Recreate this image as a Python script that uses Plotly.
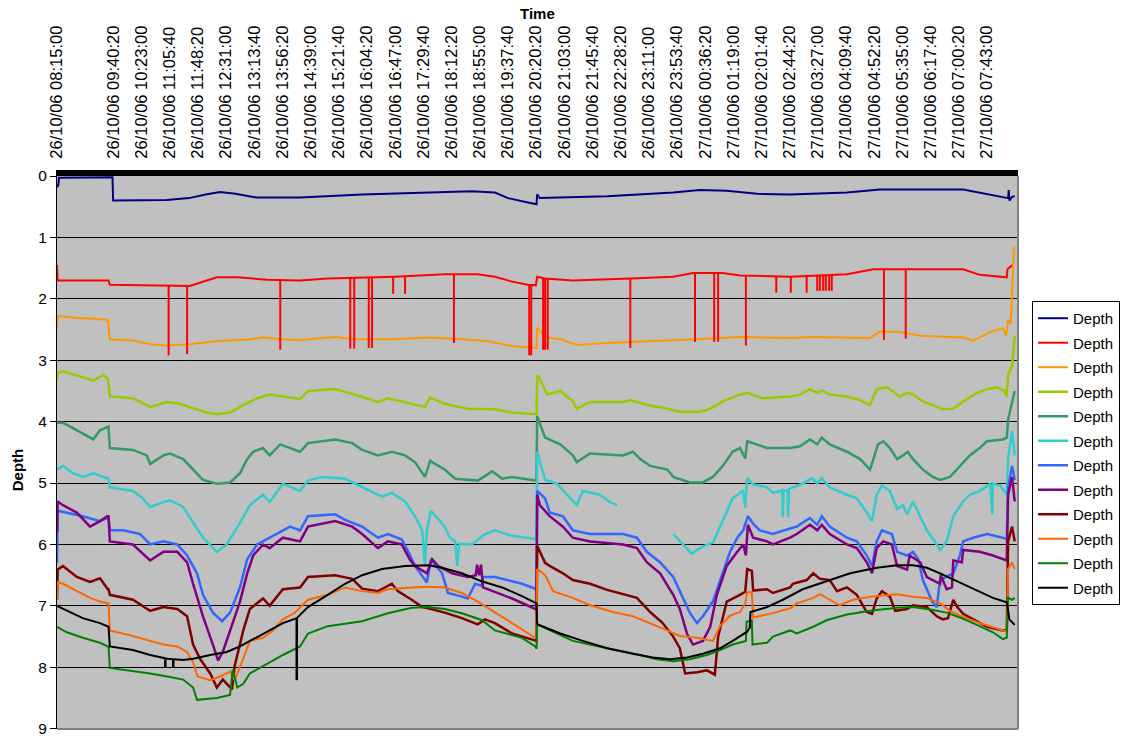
import plotly.graph_objects as go
import pandas as pd

START = "2006-10-26 08:15:00"

TICK_LABELS = [
    "26/10/06 08:15:00", "26/10/06 09:40:20", "26/10/06 10:23:00", "26/10/06 11:05:40",
    "26/10/06 11:48:20", "26/10/06 12:31:00", "26/10/06 13:13:40", "26/10/06 13:56:20",
    "26/10/06 14:39:00", "26/10/06 15:21:40", "26/10/06 16:04:20", "26/10/06 16:47:00",
    "26/10/06 17:29:40", "26/10/06 18:12:20", "26/10/06 18:55:00", "26/10/06 19:37:40",
    "26/10/06 20:20:20", "26/10/06 21:03:00", "26/10/06 21:45:40", "26/10/06 22:28:20",
    "26/10/06 23:11:00", "26/10/06 23:53:40", "27/10/06 00:36:20", "27/10/06 01:19:00",
    "27/10/06 02:01:40", "27/10/06 02:44:20", "27/10/06 03:27:00", "27/10/06 04:09:40",
    "27/10/06 04:52:20", "27/10/06 05:35:00", "27/10/06 06:17:40", "27/10/06 07:00:20",
    "27/10/06 07:43:00",
]
X_END_MIN = 1455  # end of the time axis, minutes after START

# ---- series: time (minutes after START) and depth ----
T_NAVY = [0, 2, 3, 84, 85, 166, 200, 225, 247, 270, 302, 368, 462, 587, 628, 663, 683, 713, 726, 727,
          731, 833, 933, 973, 1014, 1060, 1110, 1196, 1246, 1372, 1397, 1423, 1440, 1441, 1442, 1446, 1450]
D_NAVY = [0.18, 0.15, 0.03, 0.02, 0.40, 0.39, 0.36, 0.30, 0.26, 0.29, 0.35, 0.35, 0.30, 0.26, 0.25, 0.27,
          0.36, 0.43, 0.46, 0.30, 0.36, 0.33, 0.27, 0.23, 0.24, 0.29, 0.30, 0.27, 0.22, 0.22, 0.27, 0.33,
          0.36, 0.23, 0.40, 0.34, 0.33]

T_RED = [0, 1, 78, 80, 201, 242, 273, 318, 368, 410, 512, 587, 637, 663, 689, 713, 725, 727, 739, 781,
         868, 933, 963, 1008, 1034, 1084, 1110, 1196, 1236, 1372, 1397, 1438, 1439, 1447]
D_RED = [1.45, 1.70, 1.70, 1.77, 1.79, 1.65, 1.65, 1.69, 1.70, 1.67, 1.64, 1.60, 1.60, 1.64, 1.72, 1.77,
         1.78, 1.64, 1.67, 1.70, 1.67, 1.64, 1.58, 1.58, 1.62, 1.64, 1.64, 1.60, 1.52, 1.52, 1.61, 1.65,
         1.52, 1.45]
RED_SPIKE_T = [169, 197, 338, 444, 450, 472, 477, 509, 527, 601, 715, 718, 736, 739, 743, 868, 966, 995,
               1001, 1043, 1089, 1111, 1135, 1151, 1155, 1160, 1164, 1169, 1173, 1252, 1285]
RED_SPIKE_TOP = [1.78, 1.79, 1.69, 1.66, 1.66, 1.65, 1.65, 1.64, 1.63, 1.60, 1.77, 1.77, 1.66, 1.67, 1.67,
                 1.67, 1.58, 1.58, 1.58, 1.62, 1.64, 1.64, 1.63, 1.62, 1.62, 1.62, 1.62, 1.61, 1.61, 1.52, 1.52]
RED_SPIKE_BOTTOM = [2.92, 2.90, 2.83, 2.81, 2.81, 2.80, 2.80, 1.92, 1.92, 2.72, 2.92, 2.92, 2.83, 2.83, 2.83,
                    2.80, 2.70, 2.70, 2.70, 2.76, 1.90, 1.90, 1.90, 1.87, 1.87, 1.87, 1.87, 1.87, 1.87, 2.67, 2.65]

T_AMBER = [0, 1, 27, 70, 77, 80, 115, 141, 167, 201, 242, 292, 312, 342, 368, 421, 451, 512, 562, 613,
           653, 689, 724, 726, 727, 731, 739, 762, 787, 833, 883, 933, 984, 1034, 1084, 1110, 1145, 1231,
           1246, 1276, 1307, 1372, 1387, 1397, 1413, 1432, 1437, 1440, 1444, 1449]
D_AMBER = [2.48, 2.28, 2.31, 2.33, 2.34, 2.66, 2.68, 2.74, 2.76, 2.74, 2.69, 2.66, 2.63, 2.66, 2.67, 2.62,
           2.66, 2.66, 2.63, 2.66, 2.69, 2.77, 2.80, 2.80, 2.47, 2.52, 2.63, 2.66, 2.75, 2.72, 2.70, 2.68,
           2.65, 2.62, 2.64, 2.64, 2.62, 2.64, 2.53, 2.54, 2.60, 2.63, 2.68, 2.63, 2.54, 2.48, 2.60, 2.34,
           2.40, 1.15]

T_LIME = [0, 1, 9, 39, 55, 70, 77, 80, 115, 141, 167, 182, 201, 227, 242, 262, 282, 303, 322, 368, 380,
          421, 451, 486, 501, 527, 557, 565, 587, 622, 663, 689, 724, 726, 727, 731, 742, 762, 781, 787,
          807, 857, 868, 893, 924, 943, 973, 989, 1008, 1034, 1045, 1069, 1110, 1125, 1140, 1151, 1158,
          1170, 1196, 1216, 1231, 1241, 1257, 1276, 1287, 1296, 1311, 1332, 1341, 1357, 1372, 1393, 1408,
          1423, 1435, 1438, 1440, 1446, 1450]
D_LIME = [3.33, 3.21, 3.18, 3.27, 3.33, 3.24, 3.30, 3.59, 3.62, 3.76, 3.68, 3.70, 3.76, 3.85, 3.88, 3.85,
          3.73, 3.62, 3.56, 3.63, 3.50, 3.47, 3.56, 3.68, 3.62, 3.68, 3.76, 3.61, 3.71, 3.79, 3.80, 3.85,
          3.88, 3.88, 3.24, 3.30, 3.56, 3.50, 3.67, 3.79, 3.68, 3.68, 3.65, 3.73, 3.79, 3.84, 3.84, 3.79,
          3.67, 3.56, 3.53, 3.62, 3.59, 3.56, 3.47, 3.53, 3.49, 3.56, 3.59, 3.65, 3.73, 3.47, 3.44, 3.59,
          3.53, 3.56, 3.67, 3.76, 3.80, 3.79, 3.67, 3.53, 3.47, 3.44, 3.50, 3.59, 3.24, 3.09, 2.60]

T_SEA = [0, 9, 20, 39, 55, 65, 76, 78, 80, 115, 136, 141, 161, 171, 191, 206, 221, 242, 262, 277, 288,
         297, 312, 322, 338, 353, 368, 380, 421, 447, 462, 486, 507, 527, 542, 557, 565, 587, 603, 637,
         659, 674, 689, 724, 726, 727, 739, 762, 781, 787, 807, 857, 872, 883, 898, 924, 933, 958, 978,
         993, 1008, 1023, 1034, 1042, 1045, 1075, 1110, 1125, 1140, 1151, 1158, 1170, 1196, 1216, 1231,
         1243, 1251, 1261, 1272, 1281, 1288, 1296, 1311, 1326, 1337, 1352, 1367, 1382, 1397, 1408, 1432,
         1438, 1440, 1446, 1450]
D_SEA = [4.02, 4.02, 4.08, 4.20, 4.29, 4.14, 4.08, 4.08, 4.43, 4.46, 4.55, 4.69, 4.55, 4.52, 4.61, 4.78,
         4.95, 5.01, 4.99, 4.84, 4.61, 4.49, 4.43, 4.55, 4.37, 4.43, 4.49, 4.35, 4.29, 4.35, 4.46, 4.55,
         4.49, 4.55, 4.66, 4.90, 4.64, 4.78, 4.93, 4.96, 4.81, 4.93, 4.90, 4.96, 4.96, 3.91, 4.26, 4.37,
         4.55, 4.66, 4.52, 4.55, 4.49, 4.61, 4.72, 4.78, 4.90, 4.99, 4.99, 4.90, 4.72, 4.49, 4.43, 4.60,
         4.32, 4.43, 4.43, 4.40, 4.29, 4.37, 4.26, 4.37, 4.49, 4.61, 4.78, 4.37, 4.32, 4.43, 4.61, 4.55,
         4.49, 4.61, 4.78, 4.90, 4.95, 4.90, 4.72, 4.55, 4.43, 4.32, 4.29, 4.26, 3.97, 3.67, 3.50]

T_TURQ = [0, 9, 24, 39, 55, 76, 78, 80, 115, 130, 141, 161, 171, 191, 206, 221, 242, 257, 277, 292, 312,
          322, 342, 368, 380, 401, 436, 462, 492, 507, 527, 542, 553, 557, 560, 566, 587, 595, 603, 606,
          609, 628, 648, 663, 689, 724, 726, 727, 739, 757, 777, 787, 796, 822, 837, 848, 849, 933, 948,
          961, 978, 993, 1004, 1014, 1023, 1039, 1042, 1045, 1054, 1075, 1084, 1098, 1099, 1100, 1106,
          1107, 1108, 1114, 1129, 1143, 1151, 1158, 1170, 1196, 1211, 1226, 1234, 1241, 1249, 1261, 1272,
          1281, 1287, 1296, 1307, 1317, 1332, 1337, 1347, 1357, 1372, 1382, 1397, 1413, 1416, 1417, 1428,
          1438, 1440, 1446, 1450]
D_TURQ = [4.78, 4.72, 4.84, 4.90, 4.84, 4.93, 4.93, 5.07, 5.13, 5.25, 5.39, 5.31, 5.28, 5.39, 5.65, 5.89,
          6.12, 6.00, 5.65, 5.36, 5.19, 5.31, 5.01, 5.13, 4.96, 4.90, 4.93, 5.07, 5.22, 5.16, 5.30, 5.54,
          5.77, 6.32, 5.77, 5.45, 5.71, 5.89, 5.95, 6.35, 5.99, 6.00, 5.83, 5.77, 5.86, 5.91, 5.91, 4.49,
          4.95, 5.01, 5.24, 5.36, 5.13, 5.19, 5.31, 5.36, None, 5.83, 6.00, 6.15, 6.03, 5.97, 5.71, 5.48,
          5.25, 5.12, 5.40, 4.92, 5.02, 5.07, 5.16, 5.12, 5.55, 5.12, 5.12, 5.56, 5.10, 5.07, 5.01, 4.92,
          5.01, 4.92, 5.07, 5.19, 5.25, 5.48, 5.62, 5.19, 5.04, 5.13, 5.42, 5.36, 5.51, 5.30, 5.54, 5.77,
          6.00, 6.09, 5.95, 5.54, 5.30, 5.19, 5.13, 5.01, 5.51, 5.01, 5.04, 5.19, 4.60, 4.15, 4.55]

T_BLUE = [0, 1, 39, 65, 76, 78, 80, 100, 126, 141, 161, 182, 197, 212, 221, 236, 250, 262, 277, 288, 303,
          322, 342, 353, 368, 380, 421, 436, 462, 486, 501, 522, 534, 542, 560, 566, 583, 592, 613, 622,
          633, 643, 645, 663, 704, 724, 726, 727, 739, 746, 766, 781, 807, 857, 878, 893, 913, 933, 943,
          958, 969, 978, 993, 1008, 1019, 1030, 1039, 1046, 1054, 1064, 1084, 1110, 1120, 1140, 1151, 1158,
          1170, 1196, 1211, 1226, 1234, 1241, 1249, 1264, 1272, 1287, 1296, 1304, 1311, 1325, 1332, 1337,
          1347, 1357, 1367, 1372, 1387, 1408, 1432, 1438, 1440, 1446, 1450]
D_BLUE = [6.30, 5.45, 5.54, 5.62, 5.57, 5.57, 5.77, 5.77, 5.83, 6.00, 5.95, 6.00, 6.18, 6.47, 6.82, 7.11,
          7.25, 7.11, 6.70, 6.24, 6.00, 5.89, 5.77, 5.71, 5.77, 5.54, 5.51, 5.60, 5.71, 5.89, 5.83, 5.92,
          6.16, 6.35, 6.62, 6.25, 6.47, 6.79, 6.85, 6.88, 6.64, 6.67, 6.53, 6.53, 6.64, 6.73, 6.73, 5.13,
          5.25, 5.48, 5.54, 5.77, 5.83, 5.83, 5.89, 6.12, 6.29, 6.53, 6.76, 7.11, 7.28, 7.17, 6.93, 6.47,
          6.12, 5.89, 5.77, 5.54, 5.66, 5.77, 5.83, 5.74, 5.71, 5.57, 5.68, 5.54, 5.71, 5.89, 5.95, 6.18,
          6.35, 5.95, 5.77, 5.83, 6.12, 6.18, 6.12, 6.24, 6.58, 6.93, 7.02, 6.58, 6.53, 6.47, 6.18, 5.95,
          5.89, 5.83, 5.89, 5.92, 5.07, 4.72, 4.95]

T_PURPLE = [0, 1, 9, 30, 50, 65, 76, 78, 80, 115, 141, 161, 182, 197, 206, 221, 236, 244, 251, 262, 277,
            288, 297, 312, 322, 342, 368, 380, 421, 447, 462, 486, 501, 522, 534, 542, 560, 568, 577, 598,
            622, 634, 636, 639, 642, 645, 689, 724, 726, 727, 731, 746, 766, 781, 807, 857, 878, 893, 913,
            933, 943, 954, 963, 978, 989, 999, 1014, 1030, 1039, 1043, 1046, 1054, 1075, 1084, 1110, 1120,
            1140, 1151, 1158, 1170, 1196, 1211, 1226, 1234, 1241, 1251, 1264, 1272, 1287, 1291, 1307, 1317,
            1332, 1337, 1338, 1347, 1355, 1357, 1370, 1372, 1397, 1417, 1438, 1440, 1446, 1450]
D_PURPLE = [5.80, 5.30, 5.36, 5.48, 5.71, 5.62, 5.54, 5.54, 5.95, 6.00, 6.26, 6.12, 6.12, 6.29, 6.64, 7.17,
            7.63, 7.89, 7.75, 7.40, 6.93, 6.47, 6.18, 6.00, 6.06, 5.89, 5.95, 5.71, 5.62, 5.71, 5.83, 6.06,
            5.95, 6.00, 6.24, 6.35, 6.47, 6.24, 6.35, 6.47, 6.53, 6.50, 6.33, 6.50, 6.33, 6.70, 6.88, 7.05,
            7.05, 5.19, 5.36, 5.54, 5.71, 5.89, 5.95, 6.00, 6.06, 6.29, 6.47, 6.82, 7.05, 7.46, 7.63, 7.57,
            7.34, 6.82, 6.35, 6.12, 6.00, 6.18, 5.68, 5.89, 5.95, 6.00, 5.89, 5.83, 5.68, 5.77, 5.68, 5.83,
            6.00, 6.06, 6.29, 6.47, 6.06, 5.95, 6.00, 6.35, 6.41, 6.18, 6.29, 6.53, 6.61, 6.64, 6.50, 6.73,
            6.70, 6.26, 6.29, 6.09, 6.12, 6.18, 6.26, 5.19, 4.90, 5.30]

T_MAROON = [0, 1, 9, 30, 50, 65, 77, 78, 80, 115, 141, 161, 182, 197, 206, 217, 232, 242, 251, 265, 269,
            282, 292, 312, 322, 342, 368, 380, 421, 447, 462, 486, 507, 516, 537, 553, 562, 587, 613, 637,
            648, 663, 689, 724, 726, 727, 739, 746, 766, 781, 807, 833, 857, 878, 898, 917, 933, 943, 951,
            969, 984, 996, 1001, 1014, 1034, 1042, 1045, 1052, 1054, 1075, 1084, 1110, 1114, 1135, 1145,
            1155, 1170, 1181, 1196, 1211, 1226, 1234, 1241, 1249, 1261, 1269, 1287, 1296, 1317, 1332, 1341,
            1349, 1357, 1363, 1372, 1387, 1408, 1432, 1438, 1440, 1446, 1450]
D_MAROON = [6.90, 6.41, 6.35, 6.53, 6.61, 6.55, 6.73, 6.73, 6.82, 6.90, 7.08, 7.02, 7.05, 7.17, 7.63, 7.87,
            8.10, 8.33, 8.20, 8.36, 7.98, 7.40, 7.05, 6.88, 7.00, 6.73, 6.70, 6.53, 6.50, 6.56, 6.72, 6.76,
            6.64, 6.76, 6.90, 7.02, 7.04, 7.11, 7.20, 7.30, 7.22, 7.28, 7.45, 7.57, 7.57, 6.02, 6.30, 6.35,
            6.47, 6.58, 6.64, 6.74, 6.81, 6.87, 7.10, 7.28, 7.50, 7.69, 8.10, 8.08, 8.05, 8.12, 7.50, 6.93,
            6.82, 6.77, 6.40, 6.43, 6.75, 6.73, 6.79, 6.70, 6.64, 6.58, 6.47, 6.56, 6.58, 6.76, 6.70, 6.82,
            7.10, 7.13, 6.88, 6.76, 6.85, 7.08, 7.05, 6.99, 7.02, 7.17, 7.22, 7.20, 6.90, 7.02, 7.13, 7.22,
            7.34, 7.40, 7.40, 5.95, 5.71, 5.95]

T_ORANGE = [0, 1, 9, 30, 50, 65, 77, 78, 80, 115, 141, 161, 182, 197, 206, 213, 232, 247, 262, 269, 282,
            292, 312, 327, 342, 360, 380, 410, 436, 462, 486, 501, 537, 562, 587, 613, 637, 663, 689, 724,
            726, 727, 739, 751, 781, 807, 842, 872, 898, 924, 943, 969, 993, 1004, 1019, 1034, 1042, 1045,
            1052, 1054, 1079, 1110, 1120, 1145, 1155, 1170, 1185, 1205, 1231, 1272, 1296, 1317, 1337, 1352,
            1367, 1397, 1432, 1438, 1440, 1446, 1450]
D_ORANGE = [6.90, 6.61, 6.64, 6.76, 6.87, 6.93, 6.96, 6.96, 7.40, 7.49, 7.57, 7.63, 7.66, 7.75, 7.92, 8.15,
            8.21, 8.15, 8.07, 8.21, 7.86, 7.57, 7.52, 7.40, 7.22, 7.11, 6.90, 6.82, 6.70, 6.76, 6.79, 6.73,
            6.70, 6.69, 6.70, 6.79, 6.93, 7.10, 7.28, 7.52, 7.52, 6.40, 6.50, 6.76, 6.87, 6.99, 7.10, 7.17,
            7.28, 7.40, 7.49, 7.52, 7.57, 7.33, 7.16, 7.10, 6.96, 6.78, 6.78, 7.19, 7.13, 7.04, 6.96, 6.87,
            6.81, 6.90, 6.99, 6.90, 6.85, 6.81, 6.85, 6.87, 6.96, 7.08, 7.16, 7.28, 7.40, 7.42, 6.40, 6.29,
            6.40]

T_GREEN = [0, 15, 39, 65, 77, 78, 80, 115, 141, 167, 191, 206, 212, 242, 262, 266, 273, 282, 292, 312, 342,
           368, 380, 410, 462, 501, 537, 562, 587, 613, 643, 663, 704, 724, 726, 727, 781, 833, 883, 908,
           933, 958, 984, 1004, 1023, 1043, 1044, 1052, 1053, 1075, 1084, 1110, 1120, 1145, 1166, 1196,
           1231, 1272, 1296, 1322, 1347, 1367, 1387, 1417, 1432, 1438, 1440, 1446, 1450]
D_GREEN = [7.34, 7.43, 7.52, 7.60, 7.66, 7.66, 8.01, 8.06, 8.10, 8.15, 8.20, 8.33, 8.53, 8.50, 8.45, 8.04,
           8.33, 8.27, 8.10, 7.98, 7.80, 7.66, 7.45, 7.33, 7.25, 7.12, 7.03, 7.02, 7.05, 7.12, 7.23, 7.40,
           7.52, 7.66, 7.70, 7.30, 7.57, 7.69, 7.80, 7.87, 7.90, 7.87, 7.80, 7.72, 7.63, 7.57, 7.26, 7.24,
           7.63, 7.60, 7.50, 7.40, 7.45, 7.34, 7.23, 7.14, 7.08, 7.03, 7.02, 7.06, 7.11, 7.19, 7.28, 7.43,
           7.54, 7.52, 6.87, 6.90, 6.87]

T_BLACK = [0, 20, 39, 65, 77, 78, 80, 115, 141, 167, 191, 206, 232, 257, 277, 292, 318, 342, 363, 380, 410,
           436, 462, 492, 527, 562, 583, 613, 643, 674, 704, 724, 726, 727, 762, 796, 833, 872, 902, 928,
           954, 978, 1004, 1023, 1045, 1049, 1050, 1075, 1099, 1129, 1166, 1201, 1241, 1272, 1296, 1317,
           1337, 1363, 1387, 1417, 1438, 1442, 1450]
D_BLACK = [7.00, 7.10, 7.20, 7.28, 7.34, 7.34, 7.66, 7.72, 7.80, 7.86, 7.88, 7.86, 7.80, 7.75, 7.66, 7.57,
           7.42, 7.28, 7.20, 7.02, 6.82, 6.64, 6.50, 6.40, 6.35, 6.34, 6.38, 6.47, 6.60, 6.70, 6.84, 6.96,
           6.96, 7.30, 7.45, 7.57, 7.69, 7.78, 7.84, 7.87, 7.84, 7.78, 7.69, 7.57, 7.42, 7.35, 7.10, 7.02,
           6.90, 6.73, 6.59, 6.47, 6.38, 6.34, 6.34, 6.38, 6.47, 6.60, 6.73, 6.87, 6.94, 7.22, 7.31]
BLACK_SPIKE_T = [164, 176, 363]
BLACK_SPIKE_TOP = [7.87, 7.87, 7.20]
BLACK_SPIKE_BOTTOM = [8.00, 8.00, 8.21]

SERIES_NAMES = ["Depth"] * 12
SERIES_COLORS = ["#000080", "#FF0000", "#FF9900", "#99CC00", "#339966", "#33CCCC",
                 "#3366FF", "#800080", "#800000", "#FF6600", "#008000", "#000000"]
SERIES_WIDTHS = [2, 2, 2, 2.5, 2.5, 2.5, 2.5, 2.5, 2.5, 2, 2, 2]
SERIES_T = [T_NAVY, T_RED, T_AMBER, T_LIME, T_SEA, T_TURQ, T_BLUE, T_PURPLE, T_MAROON, T_ORANGE, T_GREEN, T_BLACK]
SERIES_D = [D_NAVY, D_RED, D_AMBER, D_LIME, D_SEA, D_TURQ, D_BLUE, D_PURPLE, D_MAROON, D_ORANGE, D_GREEN, D_BLACK]
Y_TICKS = [0, 1, 2, 3, 4, 5, 6, 7, 8, 9]

base = pd.Timestamp(START)


def to_time(mins):
    return [base + pd.Timedelta(minutes=m) for m in mins]


def spike_xy(ts, tops, bottoms):
    xs, ys = [], []
    for t, a, b in zip(ts, tops, bottoms):
        tt = base + pd.Timedelta(minutes=t)
        xs += [tt, tt, None]
        ys += [a, b, None]
    return xs, ys


FONT = "Liberation Sans, Arial, sans-serif"
fig = go.Figure()
for i, (name, color, w, t, d) in enumerate(zip(SERIES_NAMES, SERIES_COLORS, SERIES_WIDTHS, SERIES_T, SERIES_D)):
    fig.add_trace(go.Scatter(x=to_time(t), y=d, mode="lines", name=name, legendgroup=f"g{i}",
                             line=dict(color=color, width=w), connectgaps=False))

rx, ry = spike_xy(RED_SPIKE_T, RED_SPIKE_TOP, RED_SPIKE_BOTTOM)
fig.add_trace(go.Scatter(x=rx, y=ry, mode="lines", legendgroup="g1", showlegend=False,
                         line=dict(color="#FF0000", width=2), hoverinfo="skip"))
bx, by = spike_xy(BLACK_SPIKE_T, BLACK_SPIKE_TOP, BLACK_SPIKE_BOTTOM)
fig.add_trace(go.Scatter(x=bx, y=by, mode="lines", legendgroup="g11", showlegend=False,
                         line=dict(color="#000000", width=2.5), hoverinfo="skip"))

tickvals = list(pd.to_datetime(TICK_LABELS, format="%d/%m/%y %H:%M:%S"))

fig.update_layout(
    width=1122, height=738,
    margin=dict(l=57, r=104, t=176, b=9, autoexpand=False),
    paper_bgcolor="white", plot_bgcolor="#C0C0C0",
    font=dict(family=FONT, color="black", size=16),
    showlegend=True,
    legend=dict(x=1.0146, y=0.774, xanchor="left", yanchor="top", bgcolor="white",
                bordercolor="black", borderwidth=1, font=dict(size=15, family=FONT),
                tracegroupgap=2, traceorder="grouped"),
    annotations=[
        dict(text="<b>Time</b>", x=0.4995, y=1.293, xref="paper", yref="paper", showarrow=False,
             xanchor="center", yanchor="middle", font=dict(size=15, family=FONT)),
        dict(text="<b>Depth</b>", x=-0.0416, y=0.468, xref="paper", yref="paper", showarrow=False,
             xanchor="center", yanchor="middle", textangle=-90, font=dict(size=15, family=FONT)),
    ],
    shapes=[
        dict(type="line", xref="paper", yref="paper", x0=1, x1=1, y0=0, y1=1,
             line=dict(color="#808080", width=2), layer="above"),
        dict(type="line", xref="paper", yref="paper", x0=0, x1=1, y0=0, y1=0,
             line=dict(color="#808080", width=2), layer="above"),
    ],
)
fig.update_xaxes(
    type="date", side="top",
    range=[base, base + pd.Timedelta(minutes=X_END_MIN)],
    tickmode="array", tickvals=tickvals, ticktext=TICK_LABELS, tickangle=-90,
    tickfont=dict(size=16.5, family=FONT),
    showgrid=False, zeroline=False, showline=True, linecolor="black", linewidth=6,
    ticks="outside", ticklen=8, tickcolor="rgba(0,0,0,0)", automargin=False,
)
fig.update_yaxes(
    range=[9.005, 0], tickmode="array", tickvals=Y_TICKS,
    showgrid=True, gridcolor="black", gridwidth=1, zeroline=False,
    showline=True, linecolor="black", linewidth=1,
    ticks="outside", ticklen=6, tickcolor="black", tickfont=dict(size=15.5, family=FONT),
    ticklabeloverflow="allow", automargin=False,
)

fig.write_html("out.html", config={"displayModeBar": False},
               post_script="document.body.style.margin='0';")
